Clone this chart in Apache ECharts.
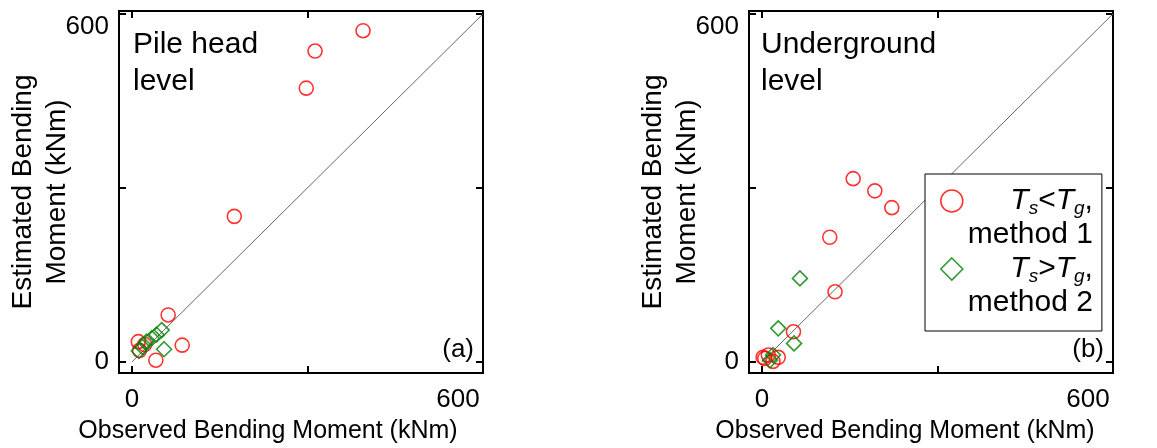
<!DOCTYPE html>
<html>
<head>
<meta charset="utf-8">
<script src="https://cdn.jsdelivr.net/npm/echarts@6/dist/echarts.min.js"></script>
<style>
html,body{margin:0;padding:0;background:#fff;}
#chart{width:1157px;height:448px;}
</style>
</head>
<body>
<div id="chart"></div>
<script>
// ---- data ----
const tickValues = [0, 300, 600];
const labelValues = [0, 600];
const panelTitles = ['Pile head\nlevel', 'Underground\nlevel'];
const panelTags = ['(a)', '(b)'];
const seriesNames = ['m1', 'm2'];
// Panel (a): pile head level  [observed, estimated]
const headMethod1 = [[395,571],[313,536],[298,472],[175,251],[62,81],[86,29],[41,3],[11,35],[13,20],[22,30]];
const headMethod2 = [[55,22],[51,55],[42,47],[34,41],[25,35],[18,26],[12,19]];
// Panel (b): underground level
const undergroundMethod1 = [[156,316],[193,295],[222,266],[116,215],[125,121],[54,52],[5,6],[11,12],[28,8],[19,1],[2,8]];
const undergroundMethod2 = [[65,144],[28,58],[55,32],[19,12],[14,3]];
const diagonal = [[0,0],[600,600]];

const FONT = '"Liberation Sans", Arial, Helvetica, sans-serif';
const RED = '#ff0000';
const GREEN = '#008000';

const grids = [
  {left: 119, top: 11, width: 364, height: 362},
  {left: 749, top: 11, width: 364, height: 362}
];

const tickStyle = {show: true, inside: true, length: 7, customValues: tickValues, lineStyle: {color: '#000', width: 2}};

function xAxes(gi, namePad) {
  return [
    {
      type: 'value', gridIndex: gi, position: 'bottom', min: -22, max: 600,
      name: 'Observed Bending Moment (kNm)', nameLocation: 'middle', nameGap: 46, nameMoveOverlap: false,
      nameTextStyle: {fontFamily: FONT, fontSize: 25, color: '#000', padding: [0, namePad, 0, 0]},
      axisLine: {show: false, onZero: false},
      axisTick: tickStyle,
      axisLabel: {
        show: true, margin: 14, customValues: labelValues, color: '#000', fontFamily: FONT, fontSize: 26,
        formatter: v => v === 600 ? '{r|600}' : '{n|' + v + '}',
        rich: {r: {fontFamily: FONT, fontSize: 26, padding: [0, 50, 0, 0]}, n: {fontFamily: FONT, fontSize: 26}}
      },
      splitLine: {show: false}
    },
    {
      type: 'value', gridIndex: gi, position: 'top', min: -22, max: 600,
      axisLine: {show: false, onZero: false},
      axisTick: tickStyle,
      axisLabel: {show: false}, splitLine: {show: false}
    }
  ];
}
function yAxes(gi) {
  return [
    {
      type: 'value', gridIndex: gi, position: 'left', min: -19, max: 605,
      name: 'Estimated Bending\nMoment (kNm)', nameLocation: 'middle', nameGap: 45, nameMoveOverlap: false,
      nameTextStyle: {fontFamily: FONT, fontSize: 28, lineHeight: 34, color: '#000'},
      axisLine: {show: false, onZero: false},
      axisTick: tickStyle,
      axisLabel: {
        show: true, margin: 10, customValues: labelValues, color: '#000', fontFamily: FONT, fontSize: 26,
        formatter: v => v === 600 ? '{t|600}' : '{n|' + v + '}',
        rich: {t: {fontFamily: FONT, fontSize: 26, padding: [26, 0, 0, 0]}, n: {fontFamily: FONT, fontSize: 26}}
      },
      splitLine: {show: false}
    },
    {
      type: 'value', gridIndex: gi, position: 'right', min: -19, max: 605,
      axisLine: {show: false, onZero: false},
      axisTick: tickStyle,
      axisLabel: {show: false}, splitLine: {show: false}
    }
  ];
}

function panelSeries(gi, m1, m2) {
  const xi = gi * 2, yi = gi * 2;
  return [
    {
      type: 'line', xAxisIndex: xi, yAxisIndex: yi, data: diagonal, symbol: 'none', silent: true,
      lineStyle: {color: '#666', width: 1}, z: 1
    },
    {
      name: seriesNames[0], type: 'scatter', xAxisIndex: xi, yAxisIndex: yi, data: m1,
      symbol: 'circle', symbolSize: 14,
      itemStyle: {color: 'rgba(0,0,0,0)', borderColor: RED, borderWidth: 1.6}, z: 3
    },
    {
      name: seriesNames[1], type: 'scatter', xAxisIndex: xi, yAxisIndex: yi, data: m2,
      symbol: 'diamond', symbolSize: 15,
      itemStyle: {color: 'rgba(0,0,0,0)', borderColor: GREEN, borderWidth: 1.6}, z: 4
    }
  ];
}

const legendRich = {
  i: {fontFamily: FONT, fontSize: 30, fontStyle: 'italic', lineHeight: 34, align: 'right', color: '#000'},
  n: {fontFamily: FONT, fontSize: 30, lineHeight: 34, align: 'right', color: '#000'},
  s: {fontFamily: FONT, fontSize: 19, fontStyle: 'italic', lineHeight: 12, verticalAlign: 'bottom', align: 'right', color: '#000'}
};

const option = {
  animation: false,
  backgroundColor: '#fff',
  grid: grids.map(g => Object.assign({show: true, borderColor: '#000', borderWidth: 2, backgroundColor: 'transparent', containLabel: false, outerBoundsMode: 'none'}, g)),
  xAxis: [...xAxes(0, 66), ...xAxes(1, 52)],
  yAxis: [...yAxes(0), ...yAxes(1)],
  legend: {
    show: true, orient: 'vertical', left: 925, top: 174,
    padding: [10, 9, 11, 15], itemGap: 0, itemWidth: 22, itemHeight: 56,
    borderColor: '#000', borderWidth: 1, backgroundColor: '#fff',
    selectedMode: false,
    data: [
      {name: seriesNames[0], icon: 'path://M0,11 A11,11 0 1,1 22,11 A11,11 0 1,1 0,11 Z M11,56',
       itemStyle: {color: 'rgba(0,0,0,0)', borderColor: RED, borderWidth: 1.6}},
      {name: seriesNames[1], icon: 'path://M11,0 L22,11 L11,22 L0,11 Z M11,56',
       itemStyle: {color: 'rgba(0,0,0,0)', borderColor: GREEN, borderWidth: 1.6}}
    ],
    formatter: function (name) {
      if (name === seriesNames[0]) return '{i|T}{s|s}{n|<}{i|T}{s|g}{n|,}\n{n|method 1}';
      return '{i|T}{s|s}{n|>}{i|T}{s|g}{n|,}\n{n|method 2}';
    },
    textStyle: {fontFamily: FONT, fontSize: 30, lineHeight: 34, color: '#000', rich: legendRich}
  },
  graphic: [
    {type: 'text', left: 133, top: 26, style: {text: panelTitles[0], font: '30px ' + FONT, lineHeight: 37, fill: '#000'}},
    {type: 'text', left: 761, top: 26, style: {text: panelTitles[1], font: '30px ' + FONT, lineHeight: 37, fill: '#000'}},
    {type: 'text', x: 474, y: 350, style: {text: panelTags[0], font: '26px ' + FONT, fill: '#000', align: 'right', verticalAlign: 'middle'}},
    {type: 'text', x: 1104, y: 350, style: {text: panelTags[1], font: '26px ' + FONT, fill: '#000', align: 'right', verticalAlign: 'middle'}}
  ],
  series: [...panelSeries(0, headMethod1, headMethod2), ...panelSeries(1, undergroundMethod1, undergroundMethod2)]
};

const chart = echarts.init(document.getElementById('chart'), null, {renderer: 'canvas'});
chart.setOption(option);
</script>
</body>
</html>
